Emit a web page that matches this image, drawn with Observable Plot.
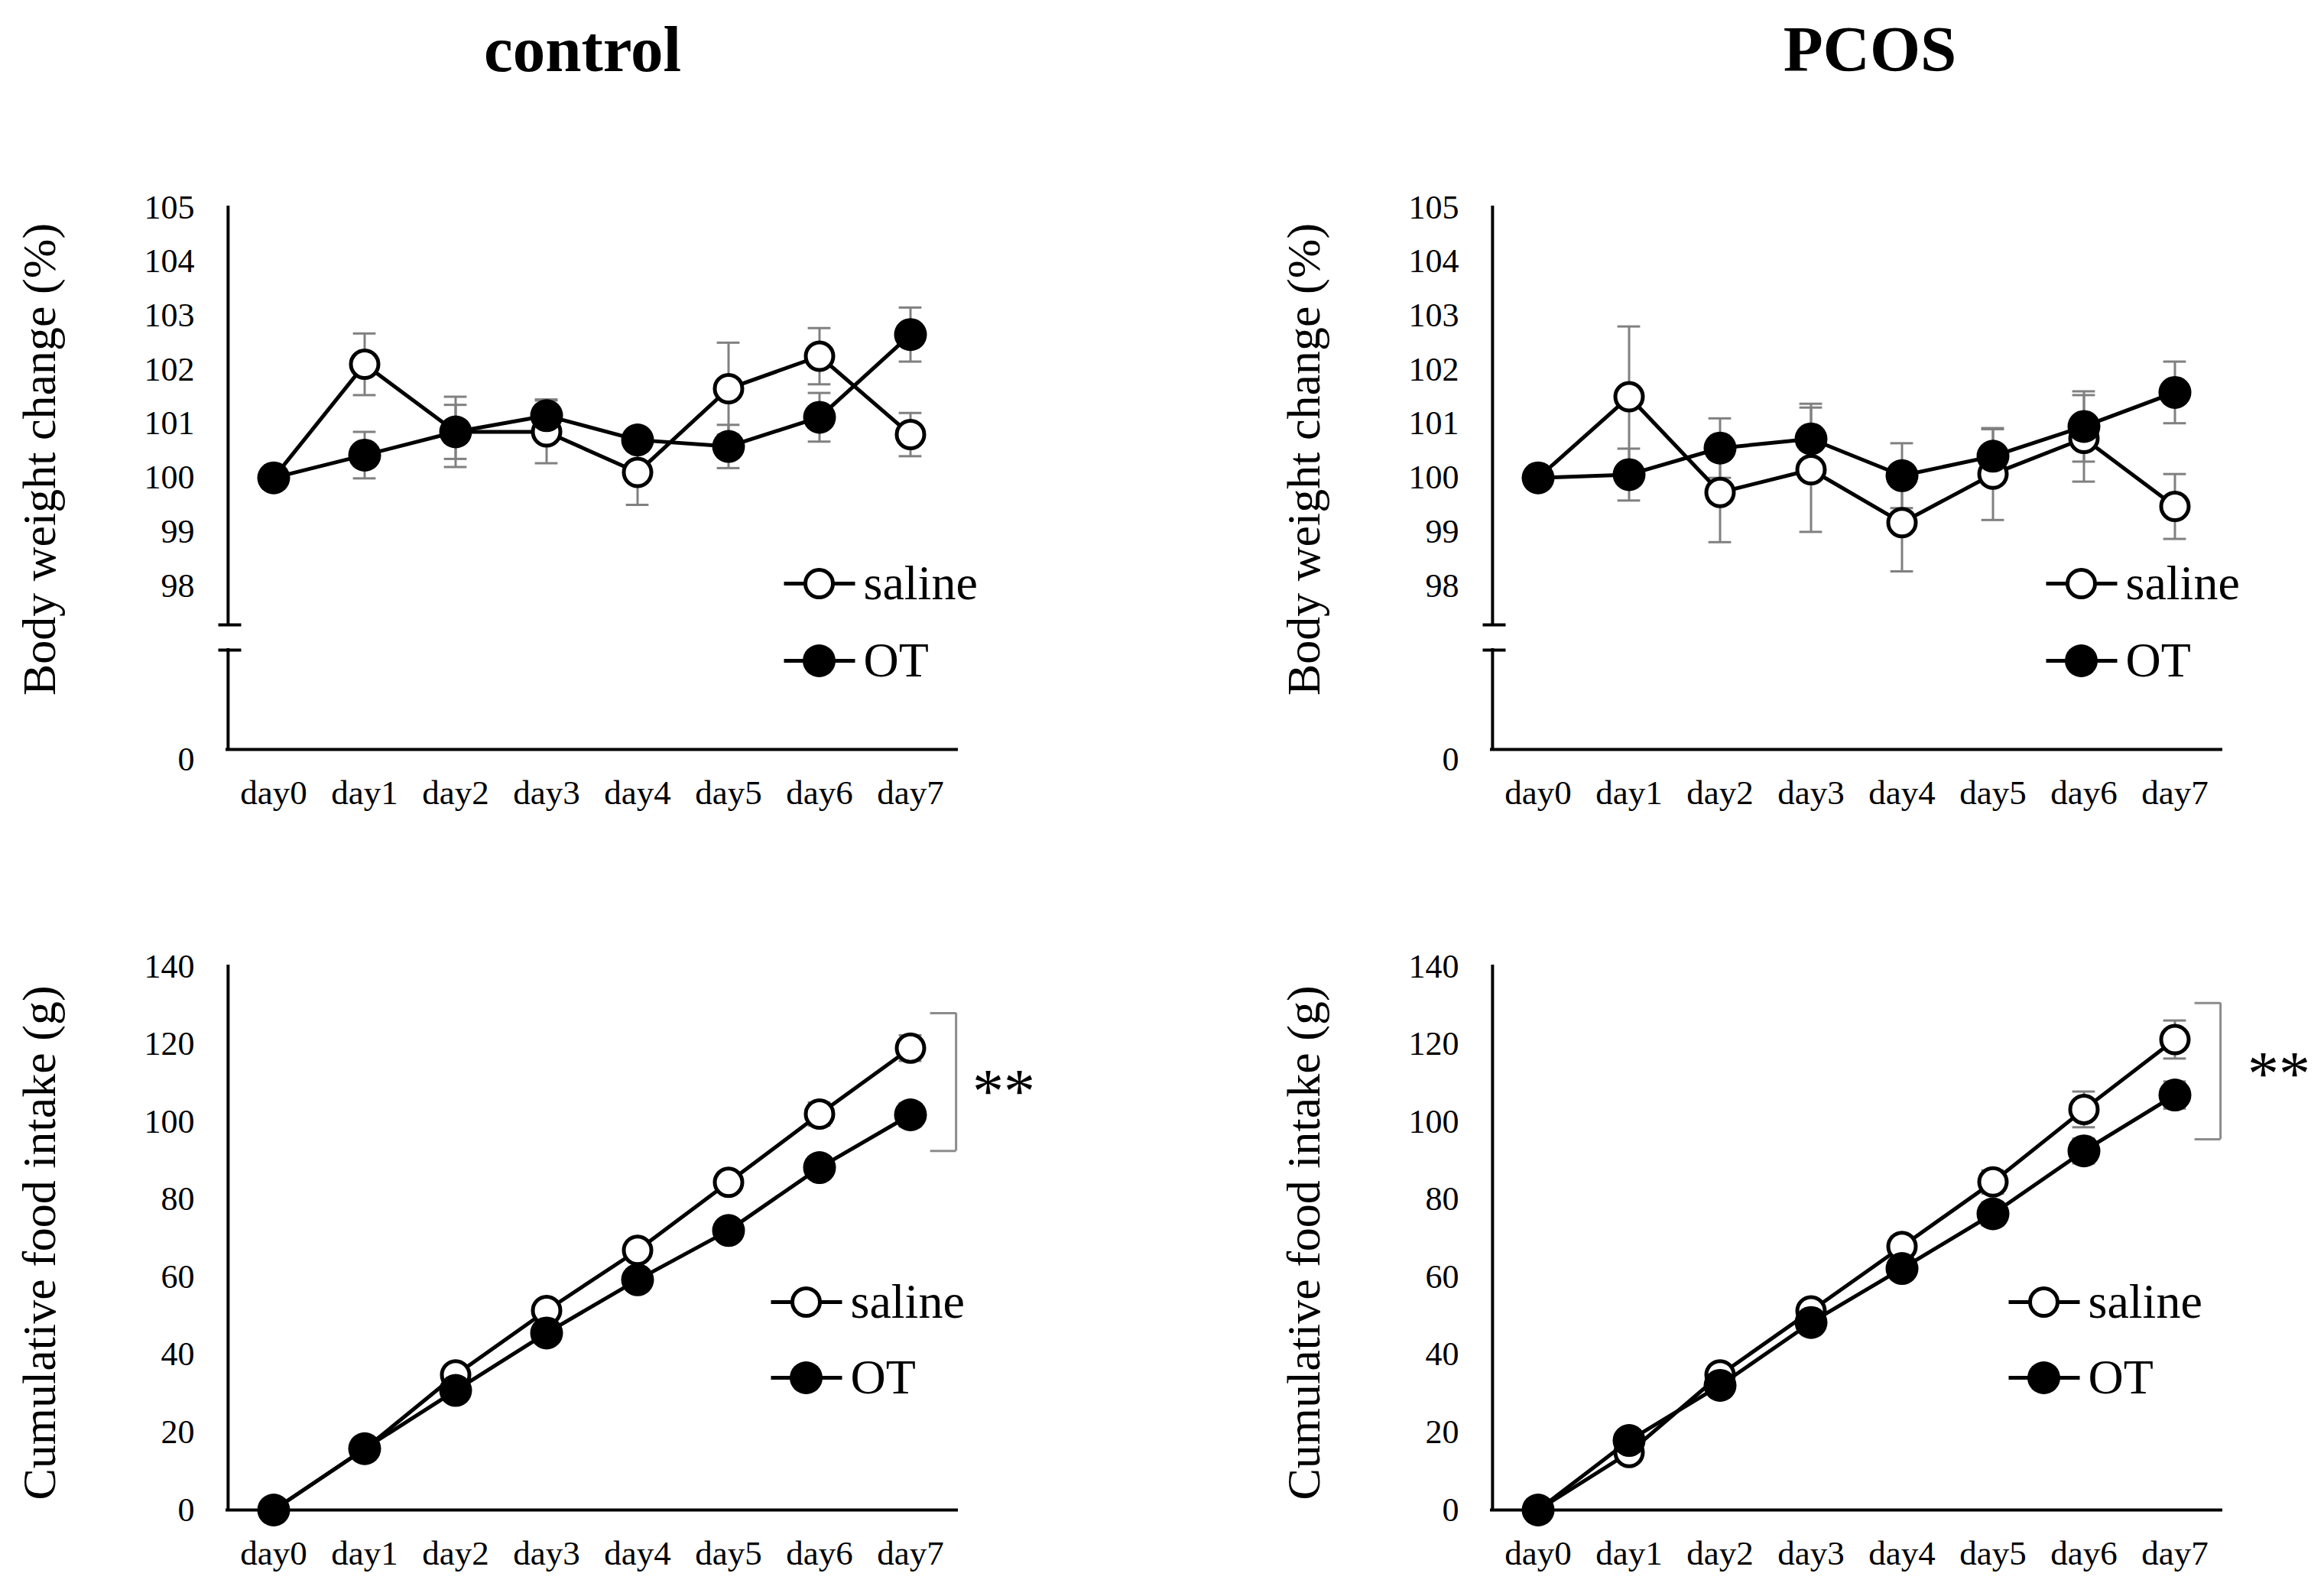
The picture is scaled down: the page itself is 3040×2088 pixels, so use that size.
<!DOCTYPE html>
<html>
<head>
<meta charset="utf-8">
<script src="https://cdn.jsdelivr.net/npm/d3@7"></script>
<script src="https://cdn.jsdelivr.net/npm/@observablehq/plot@0.6"></script>
<style>
html, body { margin: 0; padding: 0; background: #fff; }
#page { position: relative; width: 3040px; height: 2088px; overflow: hidden; background: #fff;
  font-family: "Liberation Serif", "Times New Roman", serif; color: #000; }
.title { position: absolute; font-weight: bold; font-size: 85px; line-height: 1; transform: translateX(-50%); white-space: nowrap; }
.panel { position: absolute; }
</style>
</head>
<body>
<div id="page"></div>
<script>
// ---------------- data ----------------
const days = ["day0", "day1", "day2", "day3", "day4", "day5", "day6", "day7"];
const groups = ["control", "PCOS"];
const seriesNames = ["saline", "OT"];
const bwTicks = [98, 99, 100, 101, 102, 103, 104, 105];
const bwZeroTick = [0];
const foodTicks = [0, 20, 40, 60, 80, 100, 120, 140];
const bwLabel = "Body weight change (%)";
const foodLabel = "Cumulative food intake (g)";

// body weight change (%), mean and SEM
const ctrlBwSaline    = [100, 102.1, 100.85, 100.85, 100.1, 101.65, 102.25, 100.8];
const ctrlBwSalineErr = [0, 0.57, 0.5, 0.58, 0.6, 0.85, 0.52, 0.4];
const ctrlBwOT        = [100, 100.42, 100.85, 101.15, 100.7, 100.58, 101.12, 102.65];
const ctrlBwOTErr     = [0, 0.43, 0.65, 0.3, 0.15, 0.4, 0.45, 0.5];

const pcosBwSaline    = [100, 101.5, 99.73, 100.15, 99.17, 100.07, 100.73, 99.47];
const pcosBwSalineErr = [0, 1.3, 0.92, 1.15, 0.9, 0.85, 0.8, 0.6];
const pcosBwOT        = [100, 100.06, 100.55, 100.72, 100.04, 100.4, 100.95, 101.58];
const pcosBwOTErr     = [0, 0.48, 0.55, 0.65, 0.6, 0.5, 0.65, 0.57];

// cumulative food intake (g), mean and SEM
const ctrlFoodSaline    = [0, 15.7, 34.8, 51.4, 66.9, 84.4, 102, 119];
const ctrlFoodSalineErr = [0, 0.8, 1.2, 1.6, 2, 2.5, 3, 3.3];
const ctrlFoodOT        = [0, 15.8, 30.8, 45.6, 59.3, 72, 88.2, 101.8];
const ctrlFoodOTErr     = [0, 0.8, 1.2, 1.5, 1.8, 2.2, 2.6, 3];

const pcosFoodSaline    = [0, 14.8, 34.8, 51.3, 67.9, 84.5, 103.2, 121.2];
const pcosFoodSalineErr = [0, 1, 1.5, 2, 2.5, 3, 4.6, 4.9];
const pcosFoodOT        = [0, 17.9, 32.1, 48.3, 62.2, 76.3, 92.5, 106.9];
const pcosFoodOTErr     = [0, 1, 1.5, 2, 2.5, 3, 3.2, 3.5];

// significance annotations (day7): bracket span and "**" level
const ctrlFoodBracket = [92.5, 128];
const ctrlFoodStar = 110;
const pcosFoodBracket = [95.5, 130.6];
const pcosFoodStar = 114.5;
const sigText = "**";

// broken axis: values of the two break marks on the body-weight axis
const bwBreak = [97, 97.28];

// ---------------- layout ----------------
const FONT = "Liberation Serif";
const ML = 297, FRAME_W = 954, MR = 130, W = ML + FRAME_W + MR;
const BAND = FRAME_W / days.length;
const ERR_COLOR = "#808080";

const page = document.getElementById("page");

function addTitle(text, cx) {
  const d = document.createElement("div");
  d.className = "title";
  d.textContent = text;
  d.style.left = cx + "px";
  d.style.top = "22px";
  page.appendChild(d);
}
addTitle(groups[0], 762);
addTitle(groups[1], 2446);

const hLine = (a, b) => ({ draw(ctx) { ctx.moveTo(a, 0); ctx.lineTo(b, 0); } });

function rows(vals, errs) {
  return days.map((d, i) => ({ day: d, v: vals[i], e: errs[i] }));
}

function errorMarks(data) {
  const eb = data.filter(d => d.e > 0);
  const inset = (BAND - 30) / 2;
  return [
    Plot.ruleX(eb, { x: "day", y1: d => d.v - d.e, y2: d => d.v + d.e, stroke: ERR_COLOR, strokeWidth: 3 }),
    Plot.tickY(eb, { x: "day", y: d => d.v + d.e, stroke: ERR_COLOR, strokeWidth: 3, insetLeft: inset, insetRight: inset }),
    Plot.tickY(eb, { x: "day", y: d => d.v - d.e, stroke: ERR_COLOR, strokeWidth: 3, insetLeft: inset, insetRight: inset })
  ];
}

function seriesMarks(data, filled) {
  return [
    Plot.line(data, { x: "day", y: "v", stroke: "black", strokeWidth: 5 }),
    filled
      ? Plot.dot(data, { x: "day", y: "v", r: 21.5, fill: "black", stroke: "none" })
      : Plot.dot(data, { x: "day", y: "v", r: 18, fill: "white", stroke: "black", strokeWidth: 5 })
  ];
}

function legendMarks(lx, ly1, ly2) {
  const marks = [];
  [[ly1, false, seriesNames[0]], [ly2, true, seriesNames[1]]].forEach(([ly, filled, name]) => {
    marks.push(Plot.dot([name], { frameAnchor: "top-left", dx: lx, dy: ly, symbol: hLine(-46, 47), fill: "none", stroke: "black", strokeWidth: 5 }));
    marks.push(filled
      ? Plot.dot([name], { frameAnchor: "top-left", dx: lx, dy: ly, r: 21.5, fill: "black", stroke: "none" })
      : Plot.dot([name], { frameAnchor: "top-left", dx: lx, dy: ly, r: 18, fill: "white", stroke: "black", strokeWidth: 5 }));
    marks.push(Plot.text([name], { frameAnchor: "top-left", dx: lx + 58, dy: ly, textAnchor: "start", lineAnchor: "middle", fontSize: 64, fill: "black" }));
  });
  return marks;
}

function panel(cfg) {
  const sal = rows(cfg.saline, cfg.salineErr);
  const ot = rows(cfg.ot, cfg.otErr);
  const marks = [
    ...errorMarks(sal),
    ...errorMarks(ot),
    ...seriesMarks(sal, false),
    ...seriesMarks(ot, true),
    // axis lines
    Plot.ruleX(cfg.axisSegs, { x: () => days[0], y1: d => d[0], y2: d => d[1], dx: -BAND / 2, stroke: "black", strokeWidth: 4, strokeLinecap: "square" }),
    Plot.ruleY([0], { stroke: "black", strokeWidth: 4, strokeLinecap: "square" }),
    Plot.axisX({ tickSize: 0, tickPadding: 40, fontSize: 45, label: null }),
    Plot.axisY({ ticks: cfg.ticks, tickSize: 0, tickPadding: 43, fontSize: 44, label: null }),
    Plot.text([cfg.yLabel], { frameAnchor: "left", rotate: -90, dx: -245, dy: cfg.labelDy, fontSize: 62, textAnchor: "middle", lineAnchor: "middle", fill: "black" }),
    ...legendMarks(cfg.legendX, cfg.legendY[0], cfg.legendY[1])
  ];
  if (cfg.zeroTick) {
    marks.push(Plot.text(cfg.zeroTick, { y: d => d, text: d => String(d), frameAnchor: "left", dx: -43, dy: 13, textAnchor: "end", lineAnchor: "middle", fontSize: 44, fill: "black" }));
  }
  if (cfg.breaks) {
    marks.push(Plot.dot(cfg.breaks, { y: d => d, frameAnchor: "left", symbol: hLine(-12, 18), fill: "none", stroke: "black", strokeWidth: 4 }));
  }
  if (cfg.bracket) {
    marks.push(Plot.ruleX([cfg.bracket], { x: () => days[7], y1: d => d[0], y2: d => d[1], dx: BAND / 2, stroke: "#8c8c8c", strokeWidth: 3 }));
    marks.push(Plot.dot(cfg.bracket, { x: () => days[7], y: d => d, dx: BAND / 2, symbol: hLine(-34, 0), fill: "none", stroke: "#8c8c8c", strokeWidth: 3 }));
    marks.push(Plot.text([sigText], { x: () => days[7], y: () => cfg.star, dx: cfg.starDx, dy: 12, fontSize: 82, fill: "black" }));
  }
  const chart = Plot.plot({
    width: W,
    height: cfg.height,
    marginLeft: ML,
    marginRight: MR,
    marginTop: cfg.mt,
    marginBottom: 100,
    x: { type: "band", domain: days, padding: 0, label: null },
    y: { type: "linear", domain: cfg.yDomain, range: cfg.yRange, label: null },
    style: { fontFamily: FONT, fontSize: "44px", color: "black", background: "white", overflow: "visible" },
    marks
  });
  const wrap = document.createElement("div");
  wrap.className = "panel";
  wrap.style.left = cfg.left + "px";
  wrap.style.top = cfg.top + "px";
  wrap.appendChild(chart);
  page.appendChild(wrap);
}

// top row: SVG top 200, frame 271..980 (page coords)
const topCfg = {
  top: 200, height: 880, mt: 71,
  yDomain: [0, bwBreak[0], bwBreak[1], 105], yRange: [780, 650, 617, 71],
  ticks: bwTicks, zeroTick: bwZeroTick, breaks: bwBreak,
  axisSegs: [[bwBreak[1], 105], [0, bwBreak[0]]],
  yLabel: bwLabel, labelDy: -25, legendY: [492, 593]
};
// bottom row: SVG top 1190, frame 1264..1975
const botCfg = {
  top: 1190, height: 885, mt: 74,
  yDomain: [0, 140], yRange: [785, 74],
  ticks: foodTicks, axisSegs: [[0, 140]],
  yLabel: foodLabel, labelDy: 6, legendY: [439, 538]
};

panel({ ...topCfg, left: 0, legendX: 774,
  saline: ctrlBwSaline, salineErr: ctrlBwSalineErr, ot: ctrlBwOT, otErr: ctrlBwOTErr });
panel({ ...topCfg, left: 1951 - ML, legendX: 771,
  saline: pcosBwSaline, salineErr: pcosBwSalineErr, ot: pcosBwOT, otErr: pcosBwOTErr });
panel({ ...botCfg, left: 0, legendX: 757, bracket: ctrlFoodBracket, star: ctrlFoodStar, starDx: 122,
  saline: ctrlFoodSaline, salineErr: ctrlFoodSalineErr, ot: ctrlFoodOT, otErr: ctrlFoodOTErr });
panel({ ...botCfg, left: 1951 - ML, legendX: 722, bracket: pcosFoodBracket, star: pcosFoodStar, starDx: 136,
  saline: pcosFoodSaline, salineErr: pcosFoodSalineErr, ot: pcosFoodOT, otErr: pcosFoodOTErr });
</script>
</body>
</html>
